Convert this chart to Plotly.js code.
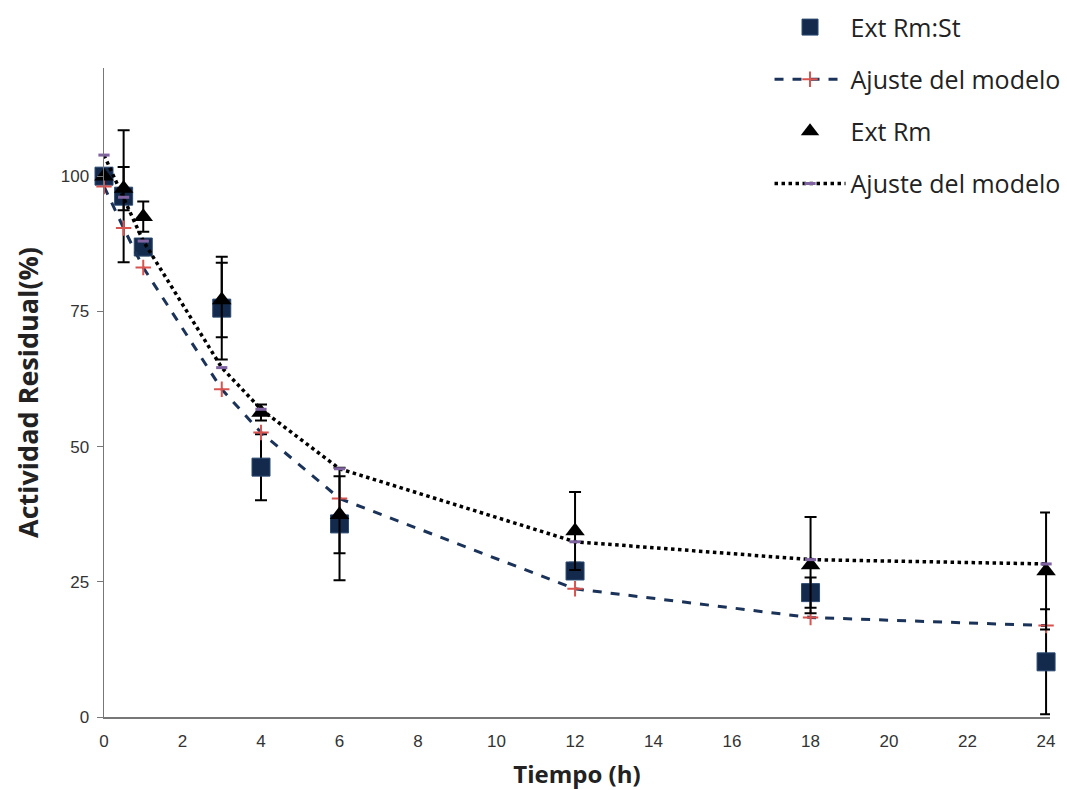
<!DOCTYPE html>
<html>
<head>
<meta charset="utf-8">
<script src="https://cdn.plot.ly/plotly-3.0.1.min.js"></script>
<style>html,body{margin:0;padding:0;background:#fff;}#chart{width:1067px;height:790px;}</style>
</head>
<body>
<div id="chart"></div>
<script>
// Data
const tiempo = [0, 0.5, 1, 3, 4, 6, 12, 18, 24];
const extRmSt = [100, 96.3, 86.9, 75.6, 46.2, 35.7, 27.0, 23.0, 10.2];
const extRmStErr = [0, 12.2, 1.5, 9.5, 6.1, 10.4, 1.5, 2.8, 9.7];
const ajusteRmSt = [98.1, 90.4, 83.1, 60.6, 52.6, 40.4, 23.7, 18.4, 16.9];
const extRm = [100, 97.7, 92.5, 77.1, 56.3, 37.4, 34.4, 28.1, 27.0];
const extRmErr = [0, 4.0, 2.8, 6.9, 1.5, 7.1, 7.2, 8.9, 10.8];
const ajusteRm = [103.9, 96.1, 88.0, 64.6, 56.9, 45.9, 32.4, 29.1, 28.3];
const yTicks = [0, 25, 50, 75, 100];
const xTicks = [0, 2, 4, 6, 8, 10, 12, 14, 16, 18, 20, 22, 24];

const textFont = '"Open Sans", Lato, sans-serif';
const tickFontFamily = '"Liberation Sans Narrow", "Liberation Sans", Arial, sans-serif';

const traces = [
  {
    x: tiempo, y: extRmSt, name: 'Ext Rm:St', type: 'scatter', mode: 'markers',
    legendgroup: 'a', cliponaxis: false,
    marker: {symbol: 'square', size: 18, color: '#132A4C', line: {color: '#2C4A72', width: 1}},
    error_y: {type: 'data', array: extRmStErr, visible: true, color: '#000', thickness: 2, width: 6}
  },
  {
    x: tiempo, y: ajusteRmSt, name: 'Ajuste del modelo', type: 'scatter', mode: 'lines+markers',
    legendgroup: 'b', cliponaxis: false,
    line: {color: '#1B3358', width: 3, dash: 'dash'},
    marker: {symbol: 'cross-thin', size: 11, color: '#D9534F', line: {color: '#D9534F', width: 2}}
  },
  {
    x: tiempo, y: extRm, name: 'Ext Rm', type: 'scatter', mode: 'markers',
    legendgroup: 'c', cliponaxis: false,
    marker: {symbol: 'triangle-up', size: 17, color: '#000'},
    error_y: {type: 'data', array: extRmErr, visible: true, color: '#000', thickness: 2, width: 6}
  },
  {
    x: tiempo, y: ajusteRm, name: 'Ajuste del modelo', type: 'scatter', mode: 'lines+markers',
    legendgroup: 'd', cliponaxis: false,
    line: {color: '#000', width: 3.5, dash: 'dot'},
    marker: {symbol: 'line-ew', size: 8, color: '#8064A2', line: {color: '#8064A2', width: 3}}
  }
];

const layout = {
  width: 1067, height: 790,
  margin: {l: 104, r: 17, t: 68, b: 73, autoexpand: false},
  paper_bgcolor: '#fff', plot_bgcolor: '#fff',
  showlegend: true,
  legend: {
    xref: 'container', yref: 'container',
    x: 0.7212, xanchor: 'left', y: 0.9945, yanchor: 'top',
    bgcolor: 'rgba(0,0,0,0)', font: {family: textFont, size: 25, color: '#222'},
    traceorder: 'grouped', tracegroupgap: 16.6, itemwidth: 71
  },
  xaxis: {
    range: [0, 24.1], tickvals: xTicks, ticktext: xTicks.map(String),
    showgrid: false, zeroline: false, showline: true, linecolor: '#777', linewidth: 1.5,
    ticks: '', ticklabelstandoff: 8,
    tickfont: {family: tickFontFamily, size: 17, color: '#333'},
    title: {text: 'Tiempo (h)', font: {family: textFont, size: 24, color: '#222', weight: 'bold'}, standoff: 16}
  },
  yaxis: {
    range: [0, 120], tickvals: yTicks, ticktext: yTicks.map(String),
    showgrid: false, zeroline: false, showline: true, linecolor: '#777', linewidth: 1.5,
    ticks: 'outside', ticklen: 6, tickcolor: '#777', ticklabelstandoff: 4,
    tickfont: {family: tickFontFamily, size: 17, color: '#333'},
    title: {text: 'Actividad Residual(%)', font: {family: textFont, size: 27, color: '#222', weight: 'bold'}, standoff: 14}
  }
};

Plotly.newPlot('chart', traces, layout, {displayModeBar: false, staticPlot: true});
</script>
</body>
</html>
